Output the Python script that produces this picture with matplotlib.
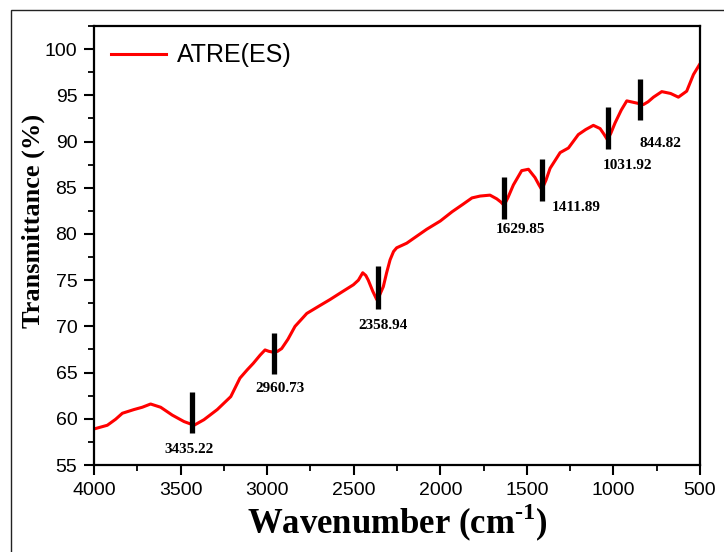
import numpy as np
import matplotlib.pyplot as plt
from matplotlib.patches import Rectangle
from matplotlib.ticker import MultipleLocator

plt.rcParams['mathtext.fontset'] = 'custom'
plt.rcParams['mathtext.rm'] = 'Liberation Serif:bold'
plt.rcParams['mathtext.bf'] = 'Liberation Serif:bold'

########## DATA ###############################################################
wavenumber = [4000, 3923, 3875, 3836, 3769, 3721, 3673, 3615, 3548, 3480, 3422,
              3365, 3288, 3210, 3157, 3115, 3080, 3040, 3012, 2990, 2964, 2940,
              2916, 2880, 2839, 2771, 2700, 2637, 2570, 2502, 2473, 2448, 2430,
              2416, 2390, 2367, 2350, 2329, 2310, 2290, 2270, 2252, 2194, 2079,
              2000, 1932, 1870, 1817, 1770, 1713, 1674, 1650, 1632, 1610, 1578,
              1530, 1491, 1453, 1430, 1414, 1390, 1366, 1308, 1260, 1203, 1160,
              1116, 1077, 1055, 1035, 1015, 991, 955, 923, 875, 827, 800, 769,
              721, 670, 625, 577, 538, 504]
transmittance = [58.9, 59.3, 59.95, 60.6, 61.0, 61.25, 61.6, 61.25, 60.4, 59.7, 59.3,
                 59.9, 61.0, 62.4, 64.4, 65.3, 66.0, 66.9, 67.45, 67.3, 67.2, 67.3,
                 67.6, 68.6, 70.0, 71.4, 72.2, 72.9, 73.7, 74.5, 75.0, 75.8, 75.5,
                 75.0, 73.8, 72.9, 73.4, 74.3, 75.8, 77.2, 78.1, 78.5, 79.0, 80.5,
                 81.4, 82.4, 83.2, 83.9, 84.1, 84.2, 83.8, 83.45, 83.1, 83.9, 85.3,
                 86.85, 87.0, 86.1, 85.3, 84.8, 85.8, 87.1, 88.8, 89.3, 90.75, 91.3,
                 91.75, 91.4, 90.8, 90.2, 90.9, 92.0, 93.4, 94.4, 94.2, 94.0, 94.3,
                 94.8, 95.4, 95.2, 94.8, 95.45, 97.25, 98.3]
series_name = 'ATRE(ES)'

peak_pos = [3435.22, 2960.73, 2358.94, 1629.85, 1411.89, 1031.92, 844.82]
peak_labels = ['3435.22', '2960.73', '2358.94', '1629.85', '1411.89', '1031.92', '844.82']
bar_lo = [58.5, 64.8, 71.9, 81.6, 83.6, 89.2, 92.3]
bar_hi = [62.9, 69.3, 76.5, 86.2, 88.1, 93.7, 96.8]

x_ticks = [4000, 3500, 3000, 2500, 2000, 1500, 1000, 500]
y_ticks = [55, 60, 65, 70, 75, 80, 85, 90, 95, 100]

# label offsets from bar bottom (pixels)
label_off = [(-3, -17), (6, -14), (5, -17), (16, -10), (34, -7), (20, -17), (20, -23)]

########## PLOT ###############################################################
fig = plt.figure(figsize=(7.24, 5.52), dpi=100)
ax = fig.add_axes([0.1298, 0.1576, 0.8371, 0.7953])

ax.plot(wavenumber, transmittance, color='#ff0000', lw=2.2, label=series_name)
ax.vlines(peak_pos, bar_lo, bar_hi, color='black', lw=3.8)
for p, lo, lab, off in zip(peak_pos, bar_lo, peak_labels, label_off):
    ax.annotate(lab, (p, lo), xytext=off, textcoords='offset pixels',
                ha='center', va='center', fontsize=11, fontweight='bold',
                family='Liberation Serif')

ax.set_xlim(4000, 500)
ax.set_ylim(55, 102.5)
ax.set_xticks(x_ticks)
ax.set_yticks(y_ticks)
ax.xaxis.set_minor_locator(MultipleLocator(250))
ax.yaxis.set_minor_locator(MultipleLocator(2.5))
ax.tick_params(which='major', direction='out', length=7, width=1.5,
               labelsize=14, pad=5)
ax.tick_params(which='minor', direction='out', length=4, width=1.3)
for t in ax.get_xticklabels() + ax.get_yticklabels():
    t.set_family('Liberation Sans')
for s in ax.spines.values():
    s.set_linewidth(1.6)

ax.set_xlabel('Wavenumber (cm$^{\\text{-}1}$)', fontsize=25, fontweight='bold',
              family='Liberation Serif')
ax.xaxis.set_label_coords(0.5, -0.085)
ax.set_ylabel('Transmittance (%)', fontsize=19, fontweight='bold',
              family='Liberation Serif')
ax.yaxis.set_label_coords(-0.081, 0.556)

leg = ax.legend(loc='upper left', frameon=False, fontsize=18, handlelength=2.2,
                handletextpad=0.4, borderaxespad=0.3)
for t in leg.get_texts():
    t.set_family('Liberation Sans')

# outer frame
fig.add_artist(Rectangle((0.0152, -0.1), 1.2, 1.0819, transform=fig.transFigure,
                         fill=False, lw=1.0, ec='#222222'))

plt.savefig('out.png', dpi=100)
